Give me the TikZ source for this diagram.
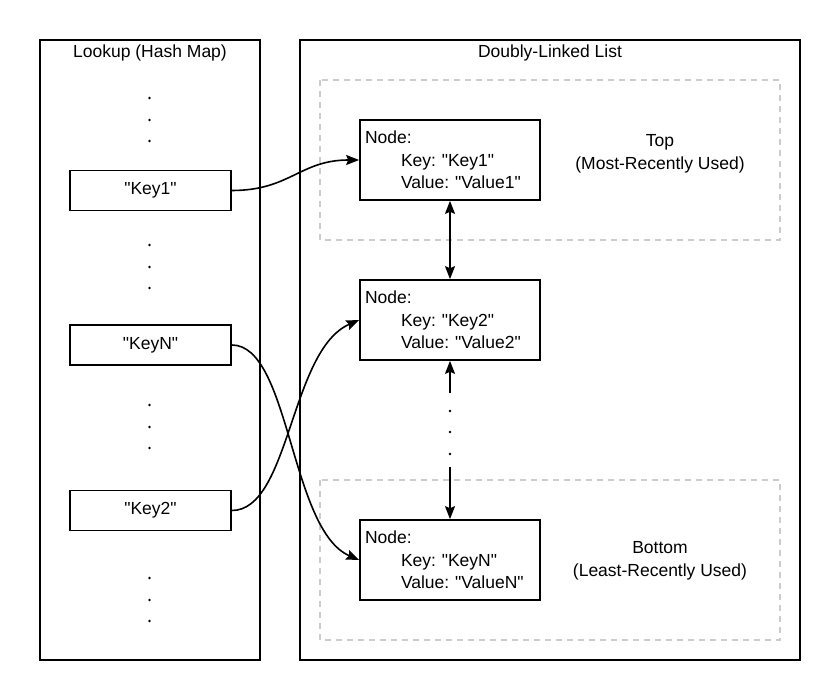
\documentclass[tikz,border=0pt]{standalone}
\usepackage{fontspec}
\setmainfont{Liberation Sans}[Ligatures=TeXOff]
\usetikzlibrary{arrows.meta}
\definecolor{dashgray}{HTML}{CCCCCC}
\tikzset{
  frame/.style={draw=black, line width=1.7pt},
  group/.style={draw=dashgray, line width=1.5pt, dash pattern=on 6pt off 5pt},
  keybox/.style={draw=black, line width=1.7pt, minimum width=161pt, minimum height=40pt, inner sep=0pt, font=\fontsize{17.5}{20}\selectfont},
  listnode/.style={draw=black, line width=1.7pt, minimum width=180pt, minimum height=80pt, inner xsep=5pt, inner ysep=0pt, text width=170pt, align=left, font=\fontsize{17.5}{22.5}\selectfont},
  lbl/.style={font=\fontsize{17.5}{23}\selectfont, align=center, inner sep=0pt},
  conn/.style={line width=1.6pt, -{Stealth[length=13pt,width=10pt,inset=2pt]}},
  dot/.style={fill=black},
}
\frenchspacing
\begin{document}
\begin{tikzpicture}[x=1pt,y=-1pt]
\useasboundingbox (0,0) rectangle (840,700);
% outer frames
\draw[frame] (40,40) rectangle (260,660);
\draw[frame] (300,40) rectangle (800,660);
\node[lbl] (lookuptitle) at (150,53) {Lookup (Hash Map)};
\node[lbl] (listtitle) at (550,53) {Doubly-Linked List};
% dashed groups
\draw[group] (320,80) rectangle (780,240);
\draw[group] (320,480) rectangle (780,640);
\node[lbl] (toplbl) at (660,154) {Top\\(Most-Recently Used)};
\node[lbl] (botlbl) at (660,561) {Bottom\\(Least-Recently Used)};
% key boxes
\node[keybox] (k1) at (150.5,190.5) {"Key1"};
\node[keybox] (kn) at (150.5,345) {"KeyN"};
\node[keybox] (k2) at (150.5,510.5) {"Key2"};
% list nodes
\node[listnode] (n1) at (450,160) {Node:\\\hspace*{36pt}Key: "Key1"\\\hspace*{36pt}Value: "Value1"};
\node[listnode] (n2) at (450,320) {Node:\\\hspace*{36pt}Key: "Key2"\\\hspace*{36pt}Value: "Value2"};
\node[listnode] (nn) at (450,560) {Node:\\\hspace*{36pt}Key: "KeyN"\\\hspace*{36pt}Value: "ValueN"};
% dots
\foreach \y in {98,120,141, 245,267,288, 405,427,448, 578,600,621}
  \fill[dot] (149.5,\y) circle (1.4pt);
\foreach \y in {411,432,454}
  \fill[dot] (450,\y) circle (1.4pt);
% vertical links
\coordinate (gapA) at (450,393);
\coordinate (gapB) at (450,467);
\draw[line width=1.6pt, {Stealth[length=13pt,width=10pt,inset=2pt]}-{Stealth[length=13pt,width=10pt,inset=2pt]}] (n1.south) -- (n2.north);
\draw[conn] (gapA) -- (n2.south);
\draw[conn] (gapB) -- (nn.north);
% curved links
\draw[conn] (k1.east) .. controls (290,190.5) and (300,160) .. (n1.west);
\draw[conn] (kn.east) .. controls (290,345) and (290,530) .. (nn.west);
\draw[conn] (k2.east) .. controls (290,510.5) and (290,350) .. (n2.west);
\end{tikzpicture}
\end{document}
